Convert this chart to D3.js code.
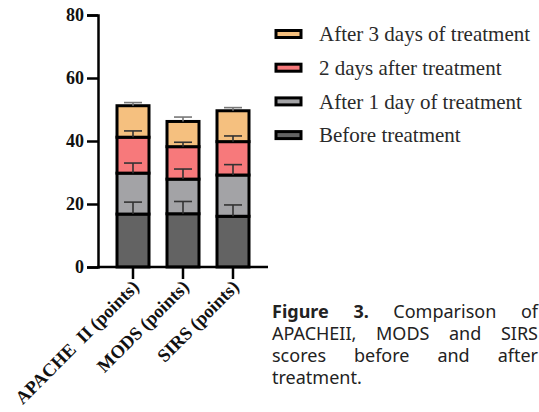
<!DOCTYPE html>
<html>
<head>
<meta charset="utf-8">
<script src="https://cdn.jsdelivr.net/npm/d3@7"></script>
<style>
  body { margin: 0; background: #fff; }
  svg { display: block; }
</style>
</head>
<body>
<svg id="chart" width="539" height="412"></svg>
<script>
// categories and series (stacked segment heights, SD for each error bar)
const categories = ['APACHE  II (points)', 'MODS (points)', 'SIRS (points)'];
const seriesNames = ['Before treatment', 'After 1 day of treatment', '2 days after treatment', 'After 3 days of treatment'];
const seriesColors = ['#636363', '#a3a3a6', '#f7797b', '#f5c07f'];
const before = [16.8, 16.9, 16.1];
const day1 = [13.0, 11.0, 13.1];
const day2 = [11.4, 10.3, 10.6];
const day3 = [10.0, 8.0, 9.8];
const sdBefore = [3.8, 3.9, 3.6];
const sdDay1 = [3.2, 3.2, 3.3];
const sdDay2 = [2.0, 1.4, 1.8];
const sdDay3 = [1.0, 1.4, 1.0];
const yTicks = [0, 20, 40, 60, 80];
const captionLines = [
  ['Figure', '3.', 'Comparison', 'of'],
  ['APACHEII,', 'MODS', 'and', 'SIRS'],
  ['scores', 'before', 'and', 'after'],
  ['treatment.']
];

const svg = d3.select('#chart');
const serif = '"Liberation Serif", "Times New Roman", serif';

const x = d3.scaleBand().domain(categories).range([98, 268]).paddingInner(0.36).paddingOuter(0.38);
const y = d3.scaleLinear().domain([0, 80]).range([267, 15]);

// build stacked rows
const values = [before, day1, day2, day3];
const sds = [sdBefore, sdDay1, sdDay2, sdDay3];
const rows = categories.map((c, i) => {
  const r = { cat: c };
  seriesNames.forEach((s, k) => { r[s] = values[k][i]; });
  return r;
});
const stacked = d3.stack().keys(seriesNames)(rows);

// bars
const g = svg.append('g');
stacked.forEach((layer, k) => {
  g.append('g').selectAll('rect')
    .data(layer)
    .join('rect')
    .attr('x', d => x(d.data.cat))
    .attr('y', d => y(d[1]))
    .attr('width', x.bandwidth())
    .attr('height', d => y(d[0]) - y(d[1]))
    .attr('fill', seriesColors[k])
    .attr('stroke', '#000')
    .attr('stroke-width', 3);
});

// error bars (upward from the top of each segment)
stacked.forEach((layer, k) => {
  const eg = g.append('g').attr('stroke', k === 3 ? '#777' : '#333').attr('stroke-width', 1.6).attr('fill', 'none');
  layer.forEach((d, i) => {
    const cx = x(d.data.cat) + x.bandwidth() / 2;
    const top = y(d[1] + sds[k][i]);
    eg.append('line').attr('x1', cx).attr('x2', cx).attr('y1', y(d[1])).attr('y2', top);
    eg.append('line').attr('x1', cx - 9).attr('x2', cx + 9).attr('y1', top).attr('y2', top);
  });
});

// y axis
const yAxis = svg.append('g')
  .attr('transform', 'translate(98,0)')
  .call(d3.axisLeft(y).tickValues(yTicks).tickSize(11).tickPadding(3));
yAxis.select('.domain').attr('stroke', '#000').attr('stroke-width', 2.5);
yAxis.selectAll('.tick line').attr('stroke', '#000').attr('stroke-width', 2.5);
yAxis.selectAll('.tick text')
  .attr('font-family', serif).attr('font-weight', 'bold').attr('font-size', 18).attr('fill', '#111');

// x axis
const xAxis = svg.append('g')
  .attr('transform', 'translate(0,267)')
  .call(d3.axisBottom(x).tickSizeOuter(0).tickSize(12).tickFormat(''));
xAxis.selectAll('.tick line').attr('stroke', '#000').attr('stroke-width', 2.5);
xAxis.select('.domain').remove();
svg.append('line').attr('x1', 97).attr('x2', 268).attr('y1', 267).attr('y2', 267)
  .attr('stroke', '#000').attr('stroke-width', 2.5);

svg.append('g').selectAll('text')
  .data(categories)
  .join('text')
  .attr('transform', d => `translate(${x(d) + x.bandwidth() / 2 + 7},${288}) rotate(-45)`)
  .attr('text-anchor', 'end')
  .attr('font-family', serif)
  .attr('font-weight', 'bold')
  .attr('font-size', 18.5)
  .attr('fill', '#111')
  .style('white-space', 'pre')
  .text(d => d);

// legend (top item is last series)
const legend = svg.append('g').attr('transform', 'translate(276,34)');
const legendItems = seriesNames.slice().reverse();
const legendColors = seriesColors.slice().reverse();
legendItems.forEach((name, i) => {
  const row = legend.append('g').attr('transform', `translate(0,${i * 33.7})`);
  row.append('rect').attr('x', 0).attr('y', -3.5).attr('width', 25).attr('height', 7)
    .attr('fill', legendColors[i]).attr('stroke', '#000').attr('stroke-width', 3);
  row.append('text').attr('x', 43).attr('y', 0).attr('dy', '0.35em')
    .attr('font-family', serif).attr('font-size', 21).attr('fill', '#2a2a2a')
    .text(name);
});

// caption, justified
const capLeft = 272, capRight = 538, capTop = 318, capLH = 22;
const cap = svg.append('g').attr('font-family', '"Noto Sans", "Open Sans", sans-serif').attr('font-size', 18).attr('fill', '#222');
captionLines.forEach((words, li) => {
  const yy = capTop + li * capLH;
  const nodes = words.map((w, wi) => {
    const bold = li === 0 && wi < 2;
    return cap.append('text').attr('y', yy).attr('font-weight', bold ? 'bold' : 'normal').text(w);
  });
  const widths = nodes.map(n => n.node().getComputedTextLength());
  const total = d3.sum(widths);
  const last = li === captionLines.length - 1;
  const gap = last || words.length < 2 ? 5 : (capRight - capLeft - total) / (words.length - 1);
  let cx = capLeft;
  nodes.forEach((n, wi) => { n.attr('x', cx); cx += widths[wi] + gap; });
});
</script>
</body>
</html>
